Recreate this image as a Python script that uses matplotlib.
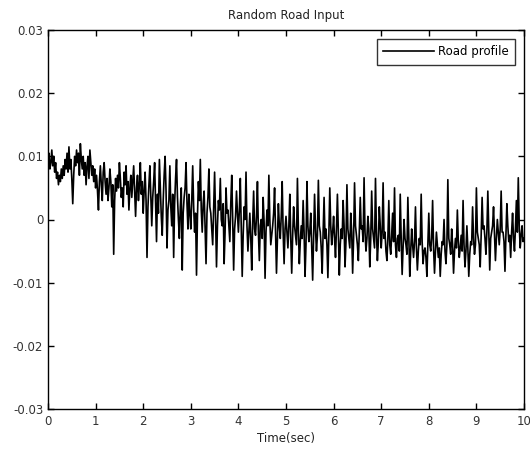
import numpy as np
import matplotlib
matplotlib.use("Agg")
import matplotlib.pyplot as plt

plt.rcParams['font.family'] = ['DejaVu Sans']

# Road profile samples (in units of 1e-3), one every 0.02 s from 0 to 10 s
road_milli = [
    # 0 s
    9.5, 10.5, 8.0, 9.0, 11.0, 8.5, 10.0, 7.5, 9.0, 6.5,
    7.5, 5.5, 7.0, 6.0, 8.0, 6.5, 8.5, 7.0, 9.5, 8.0,
    10.5, 7.5, 11.5, 8.0, 9.5, 6.5, 2.5, 7.0, 10.0, 8.5,
    11.0, 9.0, 10.5, 7.0, 12.0, 9.5, 8.0, 10.0, 7.0, 9.0,
    5.5, 8.5, 10.0, 6.5, 11.0, 9.0, 7.0, 8.5, 6.0, 8.0,
    # 1 s
    5.0, 7.0, 4.5, 1.5, 6.0, 8.5, 5.5, 3.0, 7.5, 9.0,
    6.0, 4.0, 6.5, 3.0, 5.0, 8.0, 6.0, 2.0, 5.5, -5.5,
    3.0, 6.5, 4.5, 7.0, 5.0, 9.0, 6.5, 3.5, 5.0, 2.0,
    7.5, 5.5, 8.5, 4.0, 6.0, 1.5, 5.0, 7.0, 3.5, 6.0,
    8.5, 4.5, 0.5, 5.0, 7.0, 3.0, 5.5, 9.0, 4.0, 6.0,
    # 2 s
    1.0, 4.5, 7.5, 3.0, -6.0, 2.0, 5.5, 8.5, 4.0, -1.0,
    3.5, 6.0, 9.0, 2.5, -3.5, 4.0, 1.0, 9.5, 5.0, 0.5,
    -2.5, 3.0, 7.0, 10.0, 4.5, -4.5, 1.5, 3.0, 8.5, 2.0,
    -1.0, 4.0, -6.0, 2.5, 6.5, 9.5, 3.5, 0.0, -3.0, 2.0,
    5.0, -8.0, 1.0, 3.5, 5.0, 9.0, 2.5, -1.5, 4.0, 1.0,
    # 3 s
    -1.5, 3.0, 8.5, 2.0, -2.0, 1.0, -8.8, 0.5, 6.0, 3.0,
    9.5, 1.5, -2.0, 2.5, 4.5, -1.0, -7.0, 1.0, 3.5, 8.0,
    2.0, 1.0, -1.5, -4.0, 2.0, 7.5, 0.5, -7.5, -1.0, 3.0,
    1.5, 6.5, 0.0, -1.0, 2.5, -7.0, -2.0, 5.0, 1.0, 1.5,
    -1.0, -3.5, 2.5, 7.0, 0.0, -8.0, -1.5, 0.5, 4.5, 1.0,
    # 4 s
    -2.0, 1.5, 6.5, -1.0, -9.0, -2.5, 2.0, 0.0, 7.5, -1.0,
    -5.0, -2.0, 1.0, -3.0, -8.0, -0.5, 4.5, -1.5, -2.5, 0.5,
    6.0, -2.0, -6.5, -1.0, 0.0, -3.0, 3.5, -0.5, -9.3, -2.0,
    1.5, -1.0, 7.0, 0.0, -4.0, -2.5, -1.0, 1.0, 5.0, -2.0,
    -8.5, -3.0, 2.5, -1.0, -3.0, 0.5, 6.0, -2.0, -7.0, -1.5,
    # 5 s
    0.5, -2.0, -4.5, -1.0, 4.0, -3.0, -8.5, -2.5, 2.0, -1.0,
    -2.5, -4.0, 6.5, -1.5, -7.0, -3.5, -1.0, -3.0, 3.0, -2.0,
    -9.0, -4.0, 6.0, -1.0, -3.5, -2.0, 1.0, -4.5, -9.6, -3.0,
    4.0, -1.5, -5.0, -2.5, 6.2, -1.0, -2.0, -4.5, -8.5, -2.0,
    3.5, -3.0, -1.5, -4.0, -9.2, -2.5, 5.0, -1.0, -4.0, -2.0,
    # 6 s
    0.5, -3.0, -6.0, -1.5, 4.0, -2.0, -8.8, -4.0, -1.5, -3.0,
    3.0, -1.0, -7.5, -3.5, 5.5, -1.5, -3.0, -4.5, 1.0, -2.0,
    -8.5, -3.0, 5.8, -1.0, -2.5, -4.0, -6.5, -2.0, 3.5, -1.5,
    -1.0, -3.5, 6.6, -2.0, -5.0, -3.0, 0.5, -1.5, -7.5, -3.0,
    4.5, -1.5, -3.0, -4.5, 6.5, -2.0, -6.5, -3.5, 2.0, -1.0,
    # 7 s
    -4.5, -2.0, 5.8, -3.0, -2.0, -5.0, -6.5, -3.0, 3.0, -4.0,
    -5.5, -2.5, 1.0, -3.5, 5.0, -4.0, -6.0, -3.0, -2.5, -5.0,
    4.0, -3.0, -8.7, -4.5, 0.0, -3.0, -4.0, -5.5, 3.5, -3.0,
    -9.0, -5.0, -1.5, -4.0, -6.0, -3.5, 2.0, -4.5, -8.0, -5.0,
    -3.0, -4.0, 4.0, -3.5, -7.0, -5.0, -4.5, -6.0, -9.0, -4.0,
    # 8 s
    1.0, -4.0, -5.0, -3.0, 3.0, -4.5, -8.5, -5.0, -2.0, -4.0,
    -6.0, -4.5, -9.0, -5.5, -3.5, -4.0, 0.0, -5.0, -7.0, -4.0,
    6.3, -3.0, -4.0, -5.5, -1.5, -4.0, -8.5, -5.0, -3.0, -4.5,
    1.5, -3.5, -6.0, -4.5, -2.5, -5.0, 3.0, -4.0, -7.5, -5.0,
    -1.0, -4.5, -9.0, -5.5, -3.5, -4.0, 2.0, -3.0, -5.5, -4.0,
    # 9 s
    5.0, -2.0, -3.0, -4.0, -7.5, -2.5, 3.5, -1.5, -1.0, -3.0,
    -5.5, -2.0, 4.5, -1.5, -8.0, -3.0, -2.0, -1.0, 2.0, -2.5,
    -6.5, -3.0, 0.0, -2.0, -4.0, -1.5, 4.5, -2.0, -2.0, -3.5,
    -8.2, -2.5, 2.5, -1.0, -3.5, -2.5, -6.0, -2.0, 1.0, -3.0,
    -5.0, -1.5, 3.0, -2.0, 6.6, -1.0, -4.5, -2.5, -1.0, -3.5,
    # 10 s
    -3.0,
]
sample_step = 0.02
x_ticks = [0, 1, 2, 3, 4, 5, 6, 7, 8, 9, 10]
y_ticks = [-0.03, -0.02, -0.01, 0.0, 0.01, 0.02, 0.03]
y_tick_labels = ['-0.03', '-0.02', '-0.01', '0', '0.01', '0.02', '0.03']

road = np.array(road_milli) / 1000.0
time = np.arange(len(road)) * sample_step

fig = plt.figure(figsize=(5.30, 4.49), dpi=100)
ax = fig.add_axes([48 / 530, 40 / 449, 476 / 530, 379 / 449])

ax.plot(time, road, color='black', linewidth=1.2, label='Road profile')

ax.set_xlim(0, 10)
ax.set_ylim(-0.03, 0.03)
ax.set_xticks(x_ticks)
ax.set_yticks(y_ticks)
ax.set_yticklabels(y_tick_labels)

ax.tick_params(direction='in', length=4, width=1, top=True, right=True,
               labelsize=8.5, labelcolor='#333333')
ax.tick_params(axis='x', pad=4)
ax.tick_params(axis='y', pad=3.5)
for sp in ax.spines.values():
    sp.set_linewidth(1.0)
    sp.set_color('black')

ax.set_title('Random Road Input', fontsize=8.5, color='#222222', pad=8)
ax.set_xlabel('Time(sec)', fontsize=8.5, color='#222222', labelpad=3)

leg = ax.legend(loc='upper right', fontsize=8.5, frameon=True, fancybox=False,
                borderpad=0.55, handlelength=4.3, handletextpad=0.35,
                borderaxespad=0.75)
leg.get_frame().set_edgecolor('black')
leg.get_frame().set_linewidth(1.0)

fig.savefig('out.png', dpi=100)
